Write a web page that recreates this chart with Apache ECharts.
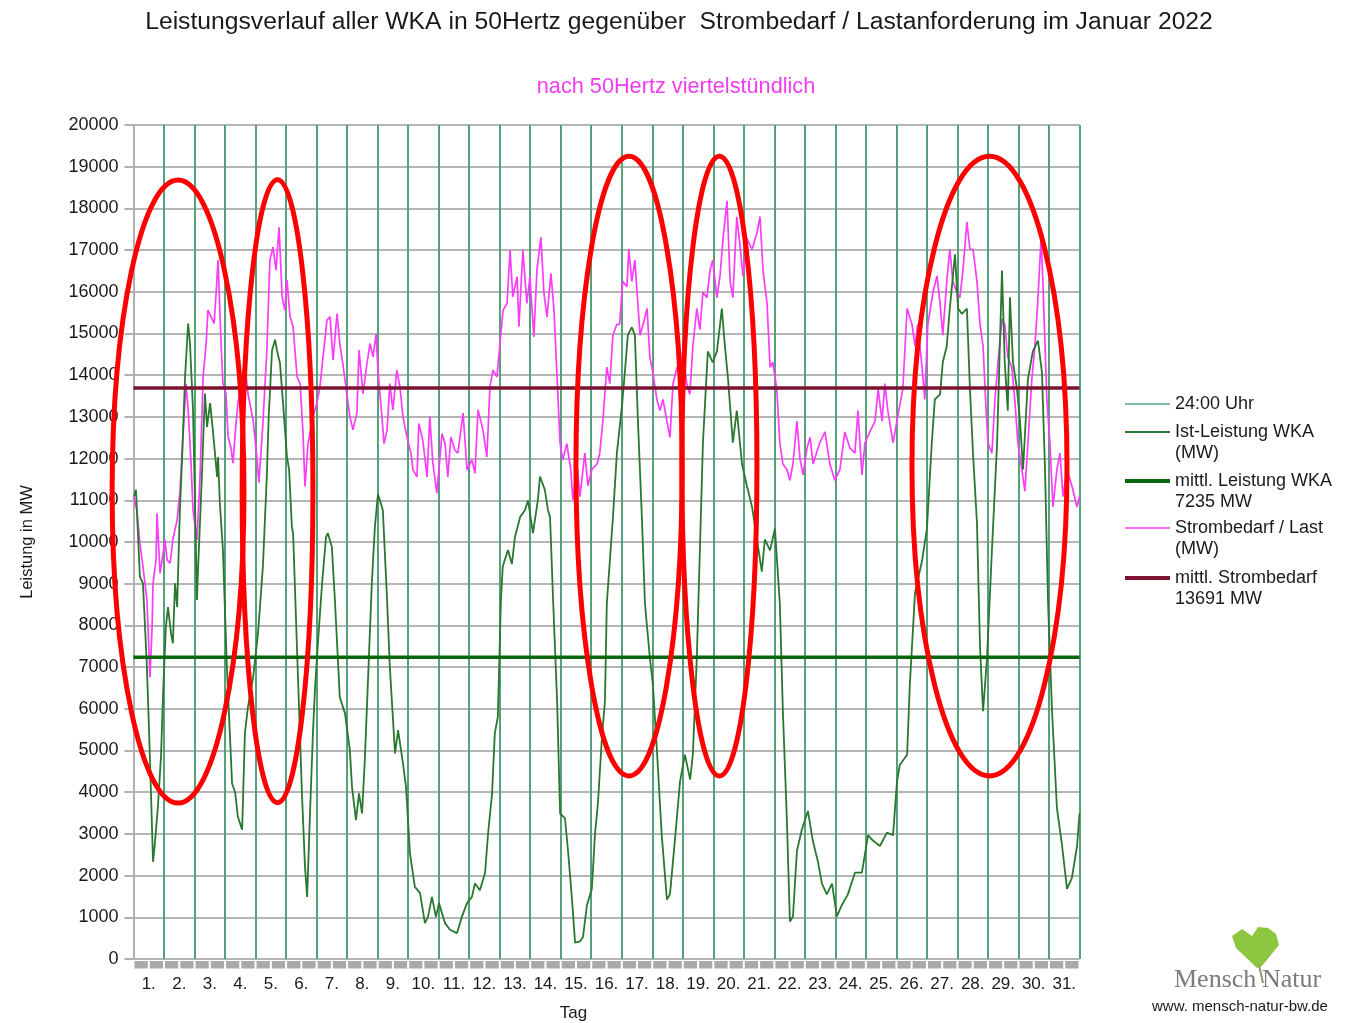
<!DOCTYPE html>
<html><head><meta charset="utf-8">
<script src="https://cdn.jsdelivr.net/npm/echarts@6/dist/echarts.min.js"></script>
<style>html,body{margin:0;padding:0;background:#fff;overflow:hidden}#c{position:absolute;left:0;top:0;width:1365px;height:1023px}</style>
</head><body><div id="c"></div>
<script>
// ---- data ----
const dayLabels = ['1.','2.','3.','4.','5.','6.','7.','8.','9.','10.','11.','12.','13.','14.','15.','16.','17.','18.','19.','20.','21.','22.','23.','24.','25.','26.','27.','28.','29.','30.','31.'];
const yTicks = {min: 0, max: 20000, step: 1000};
const meanWKA = 7235;
const meanLast = 13691;
// [day position (0 = start of 1 Jan), MW]
const wkaPoints = [
[0.02,11100],[0.08,11250],[0.11,10770],[0.21,9170],[0.31,9010],[0.44,7000],[0.54,4770],[0.64,2330],[0.70,2770],[0.80,3650],[0.90,4840],[0.97,6370],
[1.06,7960],[1.13,8440],[1.23,7810],[1.29,7570],[1.36,9010],[1.43,8440],[1.52,10770],[1.59,11970],[1.69,13960],[1.79,15240],[1.85,14770],[1.95,13170],
[2.02,10770],[2.08,8610],[2.11,9250],[2.24,11560],[2.34,13560],[2.41,12760],[2.51,13330],[2.60,12690],[2.74,11560],[2.77,12040],[2.83,10930],[2.93,9810],
[3.06,7000],[3.23,4210],[3.33,4000],[3.42,3410],[3.56,3100],[3.65,5410],[3.75,6040],[3.92,6760],
[4.08,7810],[4.24,9410],[4.37,11600],[4.43,13000],[4.54,14600],[4.64,14850],[4.70,14600],[4.80,14290],[4.90,13330],
[5.03,12040],[5.10,11730],[5.19,10360],[5.23,10210],[5.39,6760],[5.52,3970],[5.62,2210],[5.69,1490],[5.78,3410],[5.88,5410],[5.95,6520],
[6.05,7650],[6.18,9010],[6.31,10120],[6.37,10210],[6.50,9880],[6.60,8610],[6.76,6280],[6.93,5890],
[7.09,5010],[7.16,4130],[7.29,3330],[7.39,3970],[7.49,3490],[7.58,4770],[7.68,6610],[7.81,9010],[7.91,10360],
[8.01,11150],[8.17,10770],[8.31,8610],[8.40,7000],[8.57,4930],[8.67,5490],[8.83,4690],[8.93,4130],
[9.06,2530],[9.22,1730],[9.39,1580],[9.55,860],[9.65,1010],[9.78,1490],[9.91,1010],
[10.01,1340],[10.21,860],[10.37,700],[10.60,620],[10.76,1010],[10.93,1340],
[11.09,1490],[11.19,1810],[11.35,1650],[11.52,2060],[11.62,3010],[11.75,3970],[11.84,5410],[11.94,5810],
[12.04,8610],[12.10,9410],[12.27,9810],[12.40,9470],[12.50,10120],[12.67,10600],[12.83,10770],[12.93,11000],
[13.09,10210],[13.25,11000],[13.32,11570],[13.48,11250],[13.58,10770],[13.65,10600],[13.75,8610],[13.88,6210],[13.98,3490],
[14.14,3370],[14.24,2590],[14.37,1425],[14.47,393],[14.63,420],[14.73,530],[14.86,1295],
[15.02,1680],[15.12,2970],[15.22,3750],[15.35,5300],[15.45,6200],[15.51,8520],[15.61,9550],[15.71,10580],[15.84,12130],
[16.01,13290],[16.10,14060],[16.20,14960],[16.33,15150],[16.43,14960],[16.53,12900],[16.66,10580],[16.76,8520],[16.92,7230],
[17.02,6580],[17.15,5030],[17.31,2970],[17.48,1425],[17.58,1550],[17.74,2840],[17.91,4260],
[18.07,4900],[18.24,4300],[18.33,4900],[18.46,7230],[18.56,9800],[18.66,12380],[18.82,14570],[18.98,14310],
[19.12,14570],[19.28,15600],[19.38,14700],[19.48,13930],[19.64,12380],[19.77,13150],[19.94,11870],
[20.10,11350],[20.27,10840],[20.43,10060],[20.59,9290],[20.69,10060],[20.86,9800],
[21.02,10320],[21.18,8520],[21.28,5940],[21.41,3360],[21.51,900],[21.61,1020],[21.74,2590],[21.90,3100],
[22.10,3550],[22.26,2840],[22.43,2330],[22.56,1810],[22.72,1550],[22.89,1810],
[23.05,1020],[23.21,1290],[23.41,1550],[23.64,2070],[23.87,2070],
[24.07,2970],[24.23,2840],[24.46,2710],[24.69,3030],[24.89,2970],
[25.02,4260],[25.11,4650],[25.35,4900],[25.44,6580],[25.61,8780],[25.84,9550],
[26.00,10320],[26.16,12380],[26.26,13420],[26.43,13540],[26.52,14310],[26.65,14700],[26.75,15600],[26.92,16900],
[27.02,15600],[27.15,15470],[27.31,15600],[27.41,13670],[27.51,12130],[27.64,10450],[27.74,7490],[27.84,5940],[27.97,7230],
[28.13,9800],[28.30,12380],[28.46,16510],[28.55,14310],[28.65,13150],[28.72,15870],[28.82,14310],[28.95,13670],
[29.05,12900],[29.15,11740],[29.31,13900],[29.47,14570],[29.64,14830],[29.77,14060],[29.87,11740],[29.97,8520],
[30.10,5940],[30.26,3620],[30.43,2710],[30.59,1680],[30.75,1940],[30.92,2710],[31.0,3490]
];
const lastPoints = [
[0.00,11090],[0.11,10770],[0.21,9970],[0.31,9410],[0.44,8610],[0.54,6760],[0.61,7960],[0.64,9010],[0.74,9570],[0.77,10690],[0.87,9250],[0.97,9730],
[1.03,10060],[1.10,9570],[1.20,9490],[1.29,10060],[1.43,10530],[1.49,11000],[1.52,11170],[1.62,12520],[1.72,13800],[1.79,13170],[1.88,11970],[1.95,10770],
[2.08,10050],[2.18,11560],[2.28,13960],[2.38,14760],[2.44,15560],[2.54,15400],[2.64,15240],[2.70,15880],[2.77,16760],[2.87,14760],[2.93,13800],
[3.03,13560],[3.10,12520],[3.19,12280],[3.26,11890],[3.36,12840],[3.42,13320],[3.56,13960],[3.65,14280],[3.75,13560],[3.92,12920],
[4.05,11970],[4.11,11420],[4.24,12840],[4.37,14600],[4.47,16760],[4.57,17070],[4.67,16520],[4.77,17550],[4.87,15880],[4.96,15560],
[5.03,16280],[5.13,15400],[5.23,15160],[5.36,13960],[5.46,13800],[5.55,12690],[5.62,11330],[5.72,12360],[5.88,13010],
[6.01,13330],[6.11,13720],[6.21,14440],[6.34,15320],[6.44,15400],[6.54,14360],[6.67,15480],[6.76,14760],[6.86,14280],[6.99,13560],
[7.09,13010],[7.19,12690],[7.32,13090],[7.39,14600],[7.49,13800],[7.52,13560],[7.65,14280],[7.75,14760],[7.85,14440],[7.95,15000],
[8.01,14120],[8.14,13010],[8.21,12360],[8.31,12690],[8.40,13800],[8.50,13170],[8.63,14120],[8.73,13720],[8.83,13010],[8.96,12520],
[9.09,12130],[9.16,11730],[9.29,11560],[9.35,12840],[9.48,12440],[9.62,11560],[9.71,13010],[9.81,11890],[9.94,11170],
[10.11,12600],[10.21,12360],[10.30,11560],[10.40,12520],[10.53,12200],[10.63,12130],[10.80,13090],[10.93,11730],
[11.09,11970],[11.19,11650],[11.29,13170],[11.45,12690],[11.58,12040],[11.68,13720],[11.78,14120],[11.91,13960],
[12.01,14760],[12.11,15560],[12.24,15720],[12.34,17000],[12.43,15880],[12.57,16360],[12.63,15160],[12.76,17000],[12.89,15720],[12.99,16360],
[13.12,14920],[13.22,16520],[13.35,17310],[13.45,15960],[13.55,15400],[13.68,16440],[13.78,15560],[13.88,13960],[13.98,12360],
[14.07,11970],[14.20,12360],[14.33,11730],[14.40,11010],[14.53,11870],[14.63,11090],[14.79,12130],[14.89,11350],
[15.02,11740],[15.19,11870],[15.28,12130],[15.38,12900],[15.51,14190],[15.61,13800],[15.71,14960],[15.84,15220],[15.93,15220],
[16.03,16250],[16.17,16120],[16.23,17020],[16.33,16250],[16.43,16760],[16.50,15990],[16.60,14960],[16.70,15220],[16.83,15600],[16.92,14440],
[17.02,14060],[17.15,13420],[17.25,13150],[17.35,13420],[17.48,12900],[17.58,12510],[17.68,13800],[17.81,14190],[17.91,13930],
[18.00,14570],[18.13,13800],[18.23,13540],[18.33,14700],[18.46,15600],[18.56,15090],[18.66,15990],[18.79,15860],[18.89,16510],[18.98,16760],
[19.12,15860],[19.22,16380],[19.32,17280],[19.45,18180],[19.55,16250],[19.64,15860],[19.77,17800],[19.87,17150],[19.97,16380],
[20.10,17280],[20.27,17020],[20.43,17410],[20.53,17800],[20.63,16510],[20.76,15730],[20.86,14190],[20.95,14310],
[21.08,13670],[21.18,12380],[21.28,11870],[21.41,11740],[21.51,11480],[21.61,11870],[21.74,12900],[21.84,12000],[21.94,11610],
[22.07,12250],[22.17,12510],[22.27,11870],[22.43,12250],[22.49,12380],[22.66,12640],[22.82,11870],[22.98,11480],
[23.15,11740],[23.31,12640],[23.48,12250],[23.64,12130],[23.74,13150],[23.87,11610],[23.97,12380],
[24.13,12640],[24.30,12900],[24.40,13670],[24.53,12900],[24.62,13800],[24.72,13150],[24.89,12380],
[25.05,13030],[25.21,13670],[25.35,15600],[25.51,15220],[25.61,14700],[25.70,15220],[25.84,14190],[25.93,13420],
[26.03,15220],[26.20,15990],[26.33,16380],[26.43,15730],[26.52,14960],[26.65,16250],[26.75,17020],[26.85,16250],[26.98,15990],
[27.08,15860],[27.18,16510],[27.31,17670],[27.41,17020],[27.51,17020],[27.64,16250],[27.74,15220],[27.84,14700],[27.94,13150],
[28.00,12380],[28.13,12130],[28.23,13420],[28.33,14310],[28.46,15350],[28.55,15220],[28.65,14440],[28.78,14190],[28.88,13420],[28.98,12380],
[29.11,11740],[29.21,11220],[29.31,12380],[29.44,13930],[29.54,14700],[29.64,15860],[29.74,17280],[29.80,16250],[29.93,13420],
[30.03,12380],[30.13,10840],[30.26,11740],[30.36,12130],[30.46,11090],[30.59,11740],[30.75,11350],[30.92,10840],[31.0,11090]
];
// red annotation ellipses: [centre day, centre MW, half-width in days, half-height in MW]
const ellipses = [
[1.46,11210,2.16,7470],
[4.72,11220,1.16,7470],
[16.24,11820,1.74,7430],
[19.20,11820,1.23,7430],
[28.05,11820,2.54,7430]
];
const legendNames = ['24:00 Uhr','Ist-Leistung WKA\n(MW)','mittl. Leistung WKA\n' + meanWKA + ' MW','Strombedarf / Last\n(MW)','mittl. Strombedarf\n' + meanLast + ' MW'];

// ---- styles ----
const FONT = 'Liberation Sans';
const TXT = '#1a1a1a';
const seriesStyle = [
  {color: '#5aab84', width: 1.5},
  {color: '#2a772f', width: 1.8},
  {color: '#0a650f', width: 4},
  {color: '#fb3cfb', width: 1.7},
  {color: '#7a1230', width: 4}
];

const chart = echarts.init(document.getElementById('c'), null, {renderer: 'canvas', width: 1365, height: 1023});
const nDays = dayLabels.length;
function ls(i, extra) { return Object.assign({color: seriesStyle[i].color, width: seriesStyle[i].width}, extra || {}); }
chart.setOption({
  animation: false,
  backgroundColor: '#fff',
  textStyle: {fontFamily: FONT},
  title: [
    {text: 'Leistungsverlauf aller WKA in 50Hertz gegenüber  Strombedarf / Lastanforderung im Januar 2022', left: 674, top: 5, textAlign: 'center',
     textStyle: {fontFamily: FONT, fontSize: 24.7, fontWeight: 'normal', color: TXT}},
    {text: 'nach 50Hertz viertelstündlich', left: 671, top: 71, textAlign: 'center',
     textStyle: {fontFamily: FONT, fontSize: 21.7, fontWeight: 'normal', color: '#f23cf2'}}
  ],
  grid: {left: 133.5, right: 285.5, top: 125, bottom: 64, containLabel: false, outerBoundsMode: 'none'},
  xAxis: [
    {type: 'value', min: 0, max: nDays, interval: 1, position: 'bottom',
     axisLine: {show: false}, axisTick: {show: false}, axisLabel: {show: false},
     splitLine: {show: true, lineStyle: {color: '#55a27a', width: 2}}},
    {type: 'category', data: dayLabels, position: 'bottom', boundaryGap: true,
     axisLine: {show: false}, axisTick: {show: false}, splitLine: {show: false},
     axisLabel: {margin: 17, fontFamily: FONT, fontSize: 17, color: TXT, interval: 0},
     name: 'Tag', nameLocation: 'middle', nameGap: 46,
     nameTextStyle: {fontFamily: FONT, fontSize: 17, color: TXT, padding: [0, 66, 0, 0]}}
  ],
  yAxis: {
    type: 'value', min: yTicks.min, max: yTicks.max, interval: yTicks.step,
    name: 'Leistung in MW', nameLocation: 'middle', nameGap: 98, nameRotate: 90,
    nameTextStyle: {fontFamily: FONT, fontSize: 16.5, color: TXT},
    axisLine: {show: true, lineStyle: {color: '#b0b0b0', width: 2}},
    axisTick: {show: true, length: 9, lineStyle: {color: '#b0b0b0', width: 2}},
    axisLabel: {margin: 15, fontFamily: FONT, fontSize: 18, color: TXT, formatter: function (v) { return String(v); }},
    splitLine: {show: true, lineStyle: {color: '#b5b5b5', width: 2}}
  },
  series: [
    {name: legendNames[1], type: 'line', xAxisIndex: 0, data: wkaPoints, symbol: 'none', z: 3, lineStyle: ls(1)},
    {name: legendNames[2], type: 'line', xAxisIndex: 0, data: [[0, meanWKA], [nDays, meanWKA]], symbol: 'none', z: 5, lineStyle: ls(2, {width: 3.5})},
    {name: legendNames[3], type: 'line', xAxisIndex: 0, data: lastPoints, symbol: 'none', z: 2, lineStyle: ls(3)},
    {name: legendNames[4], type: 'line', xAxisIndex: 0, data: [[0, meanLast], [nDays, meanLast]], symbol: 'none', z: 5, lineStyle: ls(4, {width: 3.5})}
  ]
});

const finder = {xAxisIndex: 0, yAxisIndex: 0};
const px = function (t, v) { return chart.convertToPixel(finder, [t, v]); };
const gfx = [];
// grey tick band under the x axis: two blocks per day
for (let i = 0; i < nDays * 2; i++) {
  const a = px(i / 2, 0), b = px((i + 1) / 2, 0);
  gfx.push({type: 'rect', z: 1, silent: true, shape: {x: a[0] + 1, y: a[1] + 2, width: b[0] - a[0] - 2, height: 7.5}, style: {fill: '#a9a9a9'}});
}
// annotation ellipses
ellipses.forEach(function (e) {
  const c = px(e[0], e[1]);
  const p = px(e[0] + e[2], e[1] + e[3]);
  gfx.push({type: 'ellipse', z: 100, silent: true,
    shape: {cx: c[0], cy: c[1], rx: Math.abs(p[0] - c[0]), ry: Math.abs(c[1] - p[1])},
    style: {fill: null, stroke: '#ff0000', lineWidth: 5}});
});
// legend
const legendRows = [404, 432, 481, 528, 578];
legendNames.forEach(function (name, i) {
  const y = legendRows[i];
  gfx.push({type: 'line', z: 50, shape: {x1: 1125, y1: y, x2: 1170, y2: y}, style: {stroke: seriesStyle[i].color, lineWidth: seriesStyle[i].width}});
  gfx.push({type: 'text', z: 50, x: 1175, y: y - 10.75, style: {text: name, fontFamily: FONT, fontSize: 18, lineHeight: 21.5, fill: TXT, verticalAlign: 'top'}});
});
// logo
gfx.push(
  {type: 'polygon', z: 50, shape: {points: [[1257,968],[1236,948],[1232,936],[1242,929],[1252,936],[1258,927],[1268,928],[1276,934],[1279,945],[1262,966]]},
   style: {fill: '#8dc640'}},
  {type: 'line', z: 50, shape: {x1: 1259, y1: 965, x2: 1263, y2: 983}, style: {stroke: '#8a9a70', lineWidth: 2}},
  {type: 'text', z: 50, x: 1174, y: 967, style: {text: 'Mensch', fontFamily: 'Liberation Serif', fontSize: 26, fill: '#7b7b7b', verticalAlign: 'top'}},
  {type: 'text', z: 50, x: 1262, y: 967, style: {text: 'Natur', fontFamily: 'Liberation Serif', fontSize: 26, fill: '#7b7b7b', verticalAlign: 'top'}},
  {type: 'text', z: 50, x: 1152, y: 999, style: {text: 'www. mensch-natur-bw.de', fontFamily: FONT, fontSize: 15, fill: TXT, verticalAlign: 'top'}}
);
chart.setOption({graphic: gfx});
</script>
</body></html>
